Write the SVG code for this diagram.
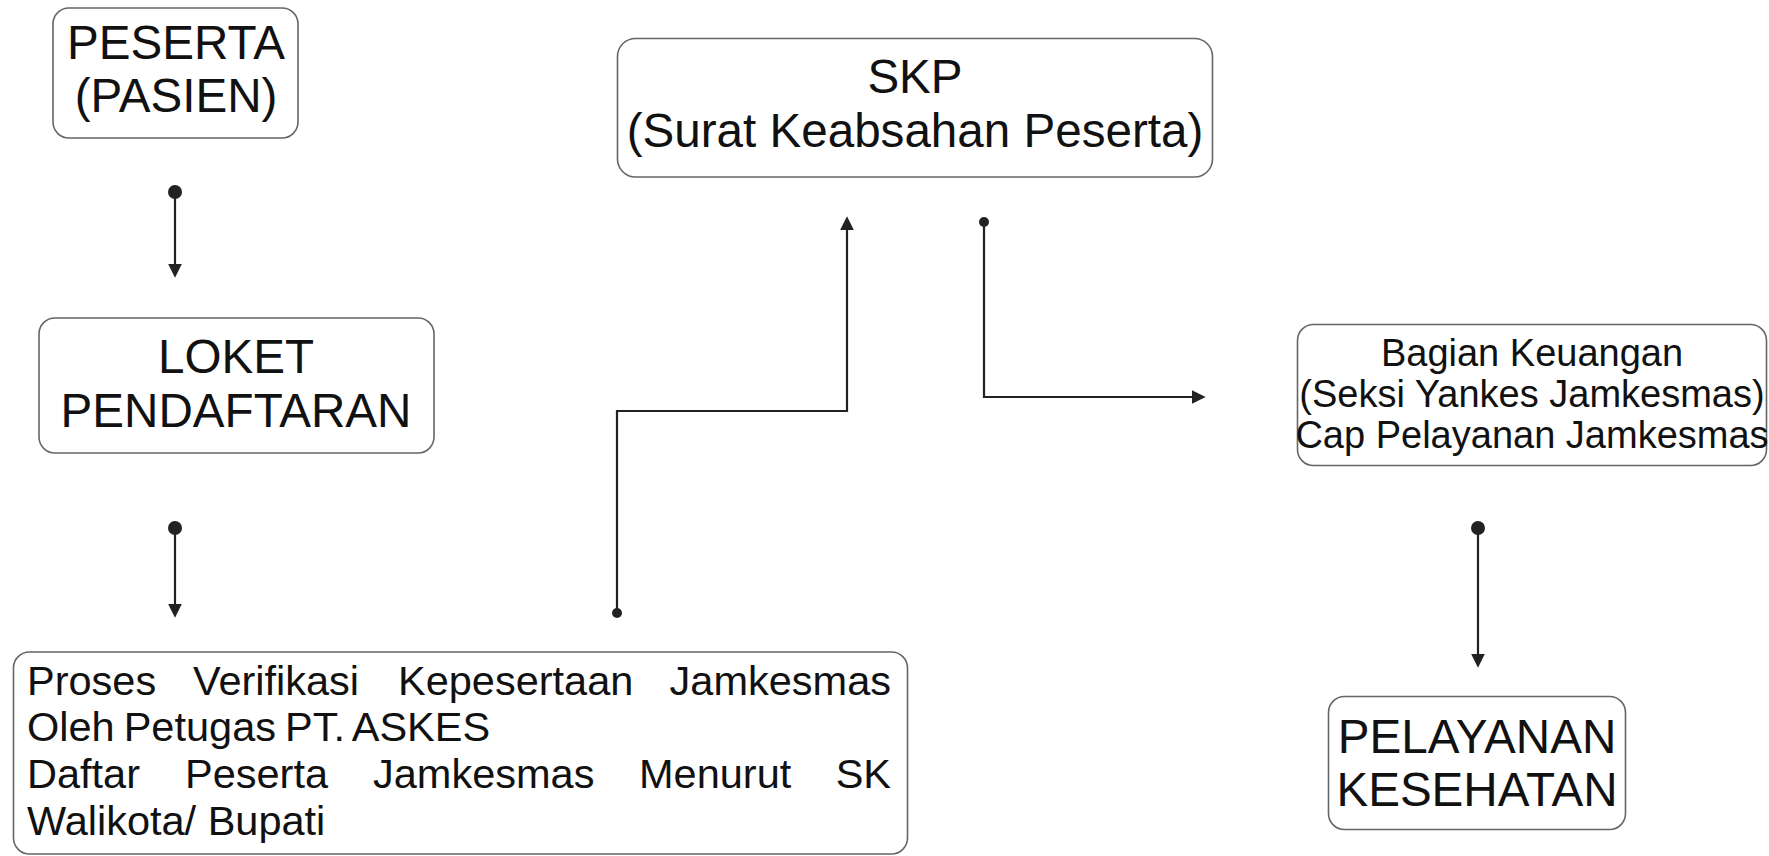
<svg xmlns="http://www.w3.org/2000/svg" width="1769" height="856" viewBox="0 0 1769 856">
<style>
.box{fill:#fff;stroke:#666;stroke-width:1.6}
.t{font-family:"Liberation Sans",Arial,sans-serif;fill:#111}
.big{font-size:47.6px;text-anchor:middle}
.pv{font-size:41.5px}
.c{fill:none;stroke:#222;stroke-width:2.2}
</style>
<defs>
<marker id="arrow" markerUnits="userSpaceOnUse" markerWidth="14" markerHeight="14" viewBox="0 0 12 12" refX="2" refY="6" orient="auto">
<path d="M0,0 L12,6 L0,12 z" fill="#222"/>
</marker>
<marker id="dotL" markerUnits="userSpaceOnUse" markerWidth="16" markerHeight="16" viewBox="0 0 16 16" refX="8" refY="8" orient="auto">
<circle cx="8" cy="8" r="7" fill="#222"/>
</marker>
<marker id="dotS" markerUnits="userSpaceOnUse" markerWidth="12" markerHeight="12" viewBox="0 0 12 12" refX="6" refY="6" orient="auto">
<circle cx="6" cy="6" r="5" fill="#222"/>
</marker>
</defs>
<rect width="1769" height="856" fill="#fff"/>

<g id="peserta">
<rect class="box" x="53" y="8" width="245" height="130" rx="16"/>
<text class="t big" x="176" y="59">PESERTA</text>
<text class="t big" x="176" y="112">(PASIEN)</text>
</g>

<g id="loket">
<rect class="box" x="39" y="318" width="395" height="135" rx="16"/>
<text class="t big" x="236" y="373">LOKET</text>
<text class="t big" x="236" y="427">PENDAFTARAN</text>
</g>

<g id="proses">
<rect class="box" x="13.5" y="652" width="894" height="202" rx="16"/>
<text class="t pv" y="695"><tspan x="27">Proses</tspan><tspan x="193">Verifikasi</tspan><tspan x="398">Kepesertaan</tspan><tspan x="891" text-anchor="end">Jamkesmas</tspan></text>
<text class="t pv" x="27" y="741" word-spacing="-2.5">Oleh Petugas PT. ASKES</text>
<text class="t pv" y="788"><tspan x="27">Daftar</tspan><tspan x="185">Peserta</tspan><tspan x="373">Jamkesmas</tspan><tspan x="639">Menurut</tspan><tspan x="891" text-anchor="end">SK</tspan></text>
<text class="t pv" x="27" y="835">Walikota/ Bupati</text>
</g>

<g id="skp">
<rect class="box" x="617.5" y="38.5" width="595" height="138.5" rx="18"/>
<text class="t big" x="915" y="93">SKP</text>
<text class="t big" x="915" y="147">(Surat Keabsahan Peserta)</text>
</g>

<g id="bagian">
<rect class="box" x="1297.5" y="324.5" width="469" height="141" rx="16"/>
<text class="t" font-size="38" text-anchor="middle" x="1532" y="366">Bagian Keuangan</text>
<text class="t" font-size="38" text-anchor="middle" x="1532" y="407">(Seksi Yankes Jamkesmas)</text>
<text class="t" font-size="38" text-anchor="middle" x="1532" y="448">Cap Pelayanan Jamkesmas</text>
</g>

<g id="pelayanan">
<rect class="box" x="1328.5" y="696.5" width="297" height="133" rx="16"/>
<text class="t big" x="1477" y="753">PELAYANAN</text>
<text class="t big" x="1477" y="806">KESEHATAN</text>
</g>

<g id="connectors">
<path class="c" d="M175 192 V266" marker-start="url(#dotL)" marker-end="url(#arrow)"/>
<path class="c" d="M175 528 V606" marker-start="url(#dotL)" marker-end="url(#arrow)"/>
<path class="c" d="M617 613 V411 H847 V228" marker-start="url(#dotS)" marker-end="url(#arrow)"/>
<path class="c" d="M984 222 V397 H1194" marker-start="url(#dotS)" marker-end="url(#arrow)"/>
<path class="c" d="M1478 528 V656" marker-start="url(#dotL)" marker-end="url(#arrow)"/>
</g>
</svg>
